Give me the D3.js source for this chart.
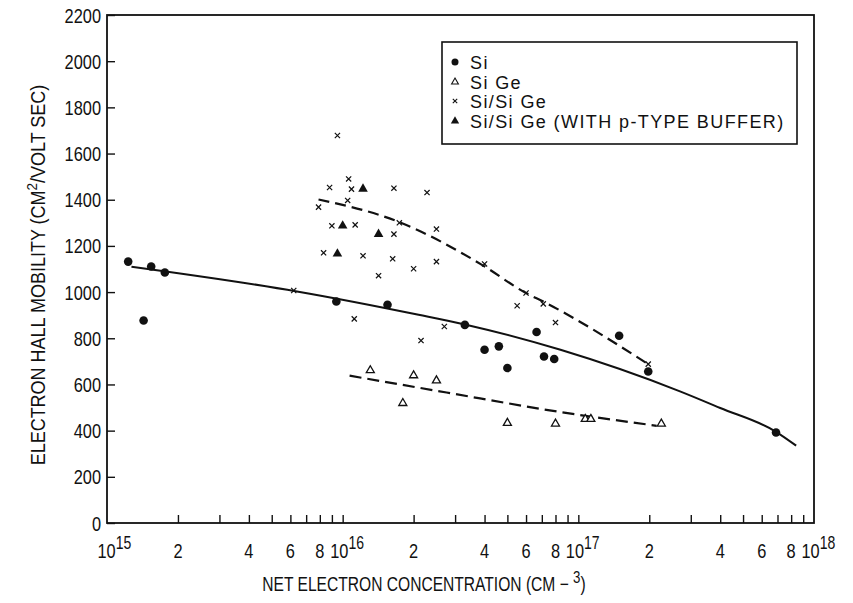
<!DOCTYPE html>
<html>
<head>
<meta charset="utf-8">
<script src="https://cdn.jsdelivr.net/npm/d3@7"></script>
<style>
  body { margin: 0; background: #fff; }
  svg text { fill: #111; }
</style>
</head>
<body>
<div id="chart"></div>
<script>
/* data: [concentration cm^-3, mobility cm2/V s] */
var siPoints = [[1.23e15,1132],[1.43e15,877],[1.54e15,1111],[1.76e15,1085],[9.4e15,959],[1.55e16,945],
  [3.3e16,858],[4.0e16,750],[4.6e16,765],[5.0e16,671],[6.65e16,827],[7.15e16,721],[7.9e16,710],
  [1.49e17,811],[1.98e17,656],[6.9e17,392]];
var siGePoints = [[1.31e16,661],[1.8e16,519],[2.0e16,639],[2.5e16,617],[5.0e16,433],[8.0e16,430],
  [1.07e17,450],[1.13e17,450],[2.25e17,430]];
var siSiGePoints = [[6.2e15,1007],[7.9e15,1368],[8.3e15,1170],[8.8e15,1453],[9.0e15,1287],[9.5e15,1678],
  [1.05e16,1397],[1.06e16,1490],[1.09e16,1446],[1.12e16,884],[1.13e16,1291],[1.22e16,1157],[1.42e16,1071],
  [1.63e16,1144],[1.65e16,1450],[1.65e16,1251],[1.74e16,1300],[2.0e16,1101],[2.15e16,790],[2.28e16,1431],
  [2.5e16,1273],[2.5e16,1132],[2.7e16,851],[4.0e16,1122],[5.5e16,941],[6.0e16,996],[7.1e16,949],
  [8.0e16,868],[1.98e17,688]];
var bufferPoints = [[9.5e15,1166],[1.0e16,1287],[1.22e16,1447],[1.42e16,1251]];

/* hand drawn fit curves */
var siFit = [[1.27e15,1110],[6.4e15,1003],[2.1e16,902],[3.3e16,860],[8.4e16,750],[2.7e17,570],
  [4e17,498],[6.9e17,395],[8.4e17,335]];
var siSiGeFit = [[7.9e15,1401],[1.72e16,1305],[3.9e16,1118],[6.0e16,996],[7.1e16,959],[2.0e17,685]];
var siGeFit = [[1.07e16,638],[2.76e16,565],[8.1e16,483],[2.15e17,421]];

/* axes */
var yTicks = [0,200,400,600,800,1000,1200,1400,1600,1800,2000,2200];
var xDecades = [1e15,1e16,1e17];
var xMinorMults = [2,3,4,5,6,7,8,9];
var xLabelMults = [2,4,6,8];
var xPowers = [15,16,17,18];

var legendItems = ["Si", "Si Ge", "Si/Si Ge", "Si/Si Ge (WITH p-TYPE BUFFER)"];

var width = 853, height = 603;
var font = "'Liberation Sans',Arial,sans-serif";
var ink = "#111";
var squeeze = 0.78;   // the original type is a condensed face

var x = d3.scaleLog().domain([1e15, 1e18]).range([107, 814]);
var y = d3.scaleLinear().domain([0, 2200]).range([523, 15]);

var svg = d3.select("#chart").append("svg")
    .attr("width", width)
    .attr("height", height)
    .style("font-family", font);

// frame
svg.append("rect")
    .attr("x", x(1e15)).attr("y", y(2200))
    .attr("width", x(1e18) - x(1e15))
    .attr("height", y(0) - y(2200))
    .attr("fill", "none")
    .attr("stroke", ink)
    .attr("stroke-width", 1.8);

// y ticks, pointing in
var yAxis = d3.axisRight(y).tickValues(yTicks).tickSize(8).tickFormat("");
var gy = svg.append("g").attr("transform", "translate(" + x(1e15) + ",0)").call(yAxis);
gy.select(".domain").remove();
gy.selectAll("line").attr("stroke", ink).attr("stroke-width", 1.4);

svg.append("g").selectAll("text").data(yTicks).enter().append("text")
    .attr("transform", function (d) {
        return "translate(" + (x(1e15) - 6) + "," + y(d) + ") scale(" + squeeze + ",1)";
    })
    .attr("dy", "0.36em")
    .attr("text-anchor", "end")
    .style("font-size", "21px")
    .text(function (d) { return d; });

// x ticks, pointing up
var xTickVals = [];
xDecades.forEach(function (dec) {
    xMinorMults.forEach(function (m) { xTickVals.push(m * dec); });
});
xTickVals.push(1e16, 1e17);
var xAxis = d3.axisTop(x).tickValues(xTickVals).tickSize(8).tickFormat("");
var gx = svg.append("g").attr("transform", "translate(0," + y(0) + ")").call(xAxis);
gx.select(".domain").remove();
gx.selectAll("line").attr("stroke", ink).attr("stroke-width", 1.4);

var xLab = svg.append("g").style("font-size", "21px");
xDecades.forEach(function (dec) {
    xLabelMults.forEach(function (m) {
        xLab.append("text")
            .attr("transform", "translate(" + x(m * dec) + ",558) scale(" + squeeze + ",1)")
            .attr("text-anchor", "middle")
            .text(m);
    });
});
xPowers.forEach(function (p) {
    var cx = x(Math.pow(10, p)) + (p === 15 ? 0 : -3);
    var t = xLab.append("text")
        .attr("transform", "translate(" + (cx - 9.5) + ",558) scale(" + squeeze + ",1)");
    t.append("tspan").text("10");
    t.append("tspan").attr("dy", -9).style("font-size", "18px").text(p);
});

// axis titles
var xt = svg.append("text")
    .attr("transform", "translate(424,591) scale(" + squeeze + ",1)")
    .attr("text-anchor", "middle")
    .style("font-size", "20px");
xt.append("tspan").text("NET ELECTRON CONCENTRATION (CM \u2212 ");
xt.append("tspan").attr("dy", -8).style("font-size", "17px").text("3");
xt.append("tspan").attr("dy", 8).text(")");

var yt = svg.append("text")
    .attr("transform", "translate(45,275) rotate(-90) scale(0.9,1)")
    .attr("text-anchor", "middle")
    .style("font-size", "20px");
yt.append("tspan").text("ELECTRON HALL MOBILITY (CM");
yt.append("tspan").attr("dy", -8).style("font-size", "15px").text("2");
yt.append("tspan").attr("dy", 8).text("/VOLT SEC)");

// fit curves
var line = d3.line()
    .x(function (d) { return x(d[0]); })
    .y(function (d) { return y(d[1]); })
    .curve(d3.curveMonotoneX);

svg.append("path").datum(siFit)
    .attr("d", line).attr("fill", "none")
    .attr("stroke", ink).attr("stroke-width", 2);
svg.append("path").datum(siSiGeFit)
    .attr("d", line).attr("fill", "none")
    .attr("stroke", ink).attr("stroke-width", 2.2)
    .attr("stroke-dasharray", "11,6");
svg.append("path").datum(siGeFit)
    .attr("d", line).attr("fill", "none")
    .attr("stroke", ink).attr("stroke-width", 2.2)
    .attr("stroke-dasharray", "12,6");

// markers
var crossPath = function (s) {
    return "M" + (-s) + "," + (-s) + "L" + s + "," + s + "M" + (-s) + "," + s + "L" + s + "," + (-s);
};
var triSmall = d3.symbol().type(d3.symbolTriangle).size(28);
var triBig = d3.symbol().type(d3.symbolTriangle).size(40);

svg.append("g").selectAll("circle").data(siPoints).enter().append("circle")
    .attr("cx", function (d) { return x(d[0]); })
    .attr("cy", function (d) { return y(d[1]); })
    .attr("r", 4.3)
    .attr("fill", ink);

svg.append("g").selectAll("path").data(siGePoints).enter().append("path")
    .attr("transform", function (d) { return "translate(" + x(d[0]) + "," + y(d[1]) + ")"; })
    .attr("d", triSmall)
    .attr("fill", "#fff")
    .attr("stroke", ink)
    .attr("stroke-width", 1.3);

svg.append("g").selectAll("path").data(siSiGePoints).enter().append("path")
    .attr("transform", function (d) { return "translate(" + x(d[0]) + "," + y(d[1]) + ")"; })
    .attr("d", crossPath(2.6))
    .attr("stroke", ink)
    .attr("stroke-width", 1.2);

svg.append("g").selectAll("path").data(bufferPoints).enter().append("path")
    .attr("transform", function (d) { return "translate(" + x(d[0]) + "," + y(d[1]) + ")"; })
    .attr("d", triBig)
    .attr("fill", ink);

// legend
var lg = svg.append("g").attr("transform", "translate(442,42)");
lg.append("rect")
    .attr("width", 355).attr("height", 102)
    .attr("fill", "#fff")
    .attr("stroke", ink).attr("stroke-width", 1.6);
var rowY = [20, 40, 59, 79];
lg.append("circle").attr("cx", 13).attr("cy", rowY[0]).attr("r", 3.5).attr("fill", ink);
lg.append("path").attr("transform", "translate(13," + rowY[1] + ")")
    .attr("d", d3.symbol().type(d3.symbolTriangle).size(20))
    .attr("fill", "#fff").attr("stroke", ink).attr("stroke-width", 1.1);
lg.append("path").attr("transform", "translate(13," + rowY[2] + ")")
    .attr("d", crossPath(2.2)).attr("stroke", ink).attr("stroke-width", 1.1);
lg.append("path").attr("transform", "translate(13," + rowY[3] + ")")
    .attr("d", d3.symbol().type(d3.symbolTriangle).size(30))
    .attr("fill", ink);
lg.selectAll("text.item").data(legendItems).enter().append("text")
    .attr("class", "item")
    .attr("x", 28)
    .attr("y", function (d, i) { return rowY[i] + 6.5; })
    .style("font-size", "18px")
    .style("letter-spacing", "1.4px")
    .text(function (d) { return d; });
</script>
</body>
</html>
